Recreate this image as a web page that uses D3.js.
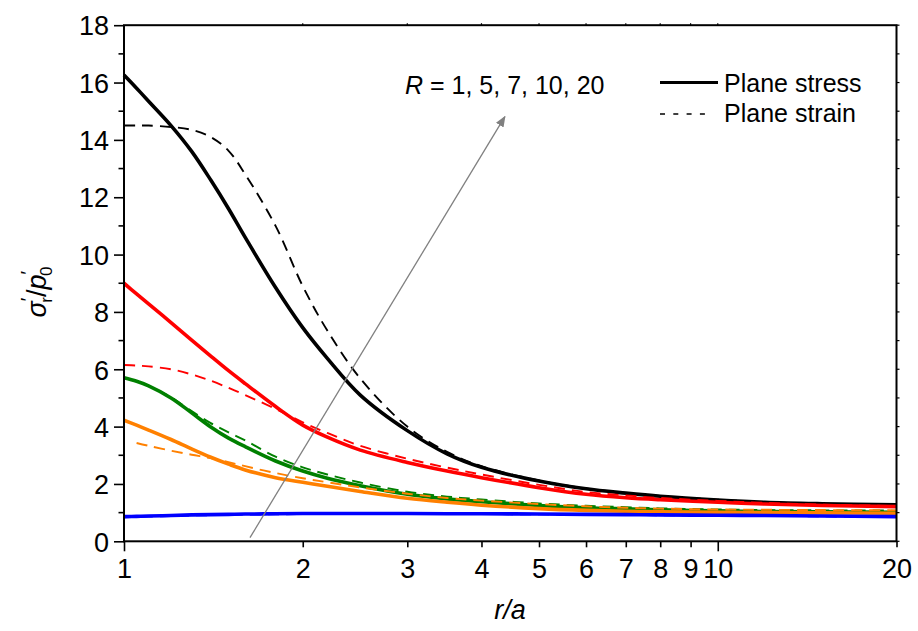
<!DOCTYPE html>
<html>
<head>
<meta charset="utf-8">
<script src="https://cdn.jsdelivr.net/npm/d3@7"></script>
<style>
  html, body { margin: 0; padding: 0; background: #fff; }
  svg { display: block; }
  text { font-family: Arial, "Liberation Sans", sans-serif; fill: #000; }
</style>
</head>
<body>
<svg id="chart" width="918" height="631"></svg>
<script>
// ---- data ----
const rGrid = [1, 1.05, 1.1, 1.2, 1.3, 1.4, 1.5, 1.6, 1.8, 2, 2.2, 2.5, 3, 3.5, 4, 5, 6, 7, 8, 10, 12, 15, 20];

const R20_stress = [16.26, 15.8, 15.35, 14.5, 13.6, 12.6, 11.6, 10.6, 8.85, 7.45, 6.38, 5.1, 3.86, 3.05, 2.58, 2.1, 1.83, 1.68, 1.57, 1.44, 1.36, 1.31, 1.27];
const R20_strain = [14.5, 14.5, 14.5, 14.45, 14.35, 14.1, 13.62, 12.8, 11.0, 8.9, 7.35, 5.68, 4.0, 3.12, 2.62, 2.12, 1.84, 1.69, 1.58, 1.45, 1.37, 1.31, 1.27];
const R10_stress = [9.0, 8.63, 8.28, 7.63, 7.02, 6.46, 5.95, 5.5, 4.7, 4.05, 3.63, 3.18, 2.75, 2.45, 2.22, 1.87, 1.64, 1.52, 1.45, 1.36, 1.3, 1.25, 1.21];
const R10_strain = [6.15, 6.13, 6.1, 6.0, 5.82, 5.6, 5.35, 5.1, 4.62, 4.15, 3.78, 3.33, 2.88, 2.57, 2.33, 1.97, 1.72, 1.6, 1.51, 1.41, 1.34, 1.28, 1.23];
const R7_stress  = [5.7, 5.58, 5.42, 5.0, 4.48, 3.99, 3.6, 3.3, 2.8, 2.45, 2.2, 1.94, 1.64, 1.48, 1.38, 1.25, 1.17, 1.13, 1.1, 1.06, 1.04, 1.03, 1.01];
const R7_strain  = [5.7, 5.58, 5.42, 5.02, 4.54, 4.12, 3.8, 3.52, 2.95, 2.58, 2.33, 2.05, 1.73, 1.56, 1.46, 1.32, 1.24, 1.19, 1.15, 1.11, 1.09, 1.08, 1.07];
const R5_stress  = [4.22, 4.05, 3.88, 3.55, 3.22, 2.93, 2.69, 2.49, 2.22, 2.06, 1.92, 1.74, 1.5, 1.36, 1.26, 1.14, 1.08, 1.05, 1.03, 1.01, 1.0, 0.99, 0.98];
const R5_strain  = [null, 3.43, 3.33, 3.16, 3.02, 2.9, 2.76, 2.62, 2.38, 2.2, 2.06, 1.88, 1.66, 1.51, 1.42, 1.3, 1.22, 1.17, 1.14, 1.11, 1.1, 1.09, 1.08];
const R1_stress  = [0.86, 0.87, 0.88, 0.9, 0.92, 0.93, 0.94, 0.95, 0.96, 0.97, 0.97, 0.97, 0.97, 0.96, 0.96, 0.95, 0.94, 0.93, 0.92, 0.91, 0.9, 0.88, 0.86];
const R1_strain  = [0.84, 0.85, 0.86, 0.88, 0.9, 0.91, 0.92, 0.93, 0.94, 0.95, 0.96, 0.96, 0.96, 0.95, 0.95, 0.94, 0.93, 0.92, 0.91, 0.9, 0.89, 0.87, 0.85];

const xTickValues = [1, 2, 3, 4, 5, 6, 7, 8, 9, 10, 20];
const xMajorTicks = [1, 10];
const yTickValues = [0, 2, 4, 6, 8, 10, 12, 14, 16, 18];
const yMinorTicks = [1, 3, 5, 7, 9, 11, 13, 15, 17];
const annotationText = "R = 1, 5, 7, 10, 20";
const arrowStart = [1.63, 0.13];   // [r/a, value]
const arrowEnd = [4.38, 14.81];
const legendLabels = ["Plane stress", "Plane strain"];

const seriesList = [
  { values: R20_strain, color: "#000000", dashed: true },
  { values: R20_stress, color: "#000000", dashed: false },
  { values: R10_stress, color: "#ff0000", dashed: false },
  { values: R10_strain, color: "#ff0000", dashed: true },
  { values: R7_stress,  color: "#008000", dashed: false },
  { values: R7_strain,  color: "#008000", dashed: true },
  { values: R5_stress,  color: "#ff8000", dashed: false },
  { values: R5_strain,  color: "#ff8000", dashed: true },
  { values: R1_stress,  color: "#0000ff", dashed: false },
  { values: R1_strain,  color: "#0000ff", dashed: true }
];

// ---- layout ----
const X0 = 124, X1 = 896.5, Y0 = 541.3, Y1 = 25.2;
const svg = d3.select("#chart");
const x = d3.scaleLog().domain([1, 20]).range([X0, X1]);
const y = d3.scaleLinear().domain([0, 18]).range([Y0, Y1]);

// ---- curves ----
const line = d3.line()
  .defined(d => d[1] !== null)
  .x(d => x(d[0]))
  .y(d => y(d[1]))
  .curve(d3.curveCatmullRom.alpha(0.5));

const curves = svg.append("g");
seriesList.forEach(s => {
  const pts = rGrid.map((r, i) => [r, s.values[i]]);
  curves.append("path")
    .datum(pts)
    .attr("d", line)
    .attr("fill", "none")
    .attr("stroke", s.color)
    .attr("stroke-width", s.dashed ? 1.9 : 3.6)
    .attr("stroke-dasharray", s.dashed ? "11,7" : null)
    .attr("stroke-linejoin", "round");
});

// ---- arrow annotation ----
const defs = svg.append("defs");
defs.append("marker")
  .attr("id", "arrowhead")
  .attr("viewBox", "0 0 10 10")
  .attr("refX", 9).attr("refY", 5)
  .attr("markerWidth", 11).attr("markerHeight", 11)
  .attr("markerUnits", "userSpaceOnUse")
  .attr("orient", "auto")
  .append("path")
  .attr("d", "M0,1 L10,5 L0,9 Z")
  .attr("fill", "#808080");

svg.append("line")
  .attr("x1", x(arrowStart[0])).attr("y1", y(arrowStart[1]))
  .attr("x2", x(arrowEnd[0])).attr("y2", y(arrowEnd[1]))
  .attr("stroke", "#808080").attr("stroke-width", 1.3)
  .attr("marker-end", "url(#arrowhead)");

const ann = svg.append("text")
  .attr("x", 405).attr("y", 94)
  .attr("font-size", 25);
ann.append("tspan").attr("font-style", "italic").text("R");
ann.append("tspan").text(annotationText.slice(1));

// ---- axes ----
const xAxis = svg.append("g").attr("transform", `translate(0,${Y0})`);
xAxis.call(d3.axisBottom(x).tickValues(xTickValues).tickFormat(d3.format("d")).tickSize(6).tickSizeOuter(0));
xAxis.select(".domain").remove();
xAxis.selectAll(".tick line").attr("stroke-width", 1.6)
  .attr("y2", d => xMajorTicks.includes(d) ? 10 : 6);
xAxis.selectAll(".tick text").attr("font-size", 27).attr("font-family", "Arial, 'Liberation Sans', sans-serif")
  .attr("y", 18).attr("dy", "0.71em");

const yAxis = svg.append("g").attr("transform", `translate(${X0},0)`);
yAxis.call(d3.axisLeft(y).tickValues(yTickValues).tickFormat(d3.format("d")).tickSize(10).tickSizeOuter(0));
yAxis.select(".domain").remove();
yAxis.selectAll(".tick line").attr("stroke-width", 1.6);
yAxis.selectAll(".tick text").attr("font-size", 27).attr("font-family", "Arial, 'Liberation Sans', sans-serif")
  .attr("x", -15).attr("dy", "0.36em");
yAxis.selectAll(".minor").data(yMinorTicks).enter().append("line")
  .attr("x1", 0).attr("x2", -5.5)
  .attr("y1", d => y(d)).attr("y2", d => y(d))
  .attr("stroke", "#000").attr("stroke-width", 1.6);

svg.append("g").selectAll("line").data(d3.range(0, 19)).enter().append("line")
  .attr("x1", X1).attr("x2", X1 + 3)
  .attr("y1", d => y(d)).attr("y2", d => y(d))
  .attr("stroke", "#000").attr("stroke-width", 1.2);
svg.append("g").selectAll("line").data(xTickValues.slice(1, -1)).enter().append("line")
  .attr("x1", d => x(d)).attr("x2", d => x(d))
  .attr("y1", Y1).attr("y2", Y1 - 2)
  .attr("stroke", "#000").attr("stroke-width", 1.2);

svg.append("rect")
  .attr("x", X0).attr("y", Y1)
  .attr("width", X1 - X0).attr("height", Y0 - Y1)
  .attr("fill", "none").attr("stroke", "#000").attr("stroke-width", 2);

// ---- axis titles ----
svg.append("text")
  .attr("x", 510).attr("y", 619)
  .attr("text-anchor", "middle")
  .attr("font-size", 27).attr("font-style", "italic")
  .text("r/a");

const yt = svg.append("text")
  .attr("transform", "translate(46,292) rotate(-90)")
  .attr("text-anchor", "middle")
  .attr("font-size", 27);
yt.append("tspan").attr("font-style", "italic").text("σ");
yt.append("tspan").attr("font-size", 19).attr("dy", -12).text("′");
yt.append("tspan").attr("font-size", 17).attr("dx", -5).attr("dy", 18).text("r");
yt.append("tspan").attr("dy", -6).text("/");
yt.append("tspan").attr("font-style", "italic").text("p");
yt.append("tspan").attr("font-size", 19).attr("dy", -12).text("′");
yt.append("tspan").attr("font-size", 17).attr("dx", -5).attr("dy", 18).text("0");

// ---- legend ----
const lg = svg.append("g");
lg.append("line").attr("x1", 660).attr("x2", 718).attr("y1", 82.5).attr("y2", 82.5)
  .attr("stroke", "#000").attr("stroke-width", 3.2);
lg.append("line").attr("x1", 660).attr("x2", 705).attr("y1", 114).attr("y2", 114)
  .attr("stroke", "#000").attr("stroke-width", 1.6).attr("stroke-dasharray", "5,8.3");
lg.append("text").attr("x", 724).attr("y", 91.5).attr("font-size", 25).text(legendLabels[0]);
lg.append("text").attr("x", 724).attr("y", 121.5).attr("font-size", 25).text(legendLabels[1]);
</script>
</body>
</html>
